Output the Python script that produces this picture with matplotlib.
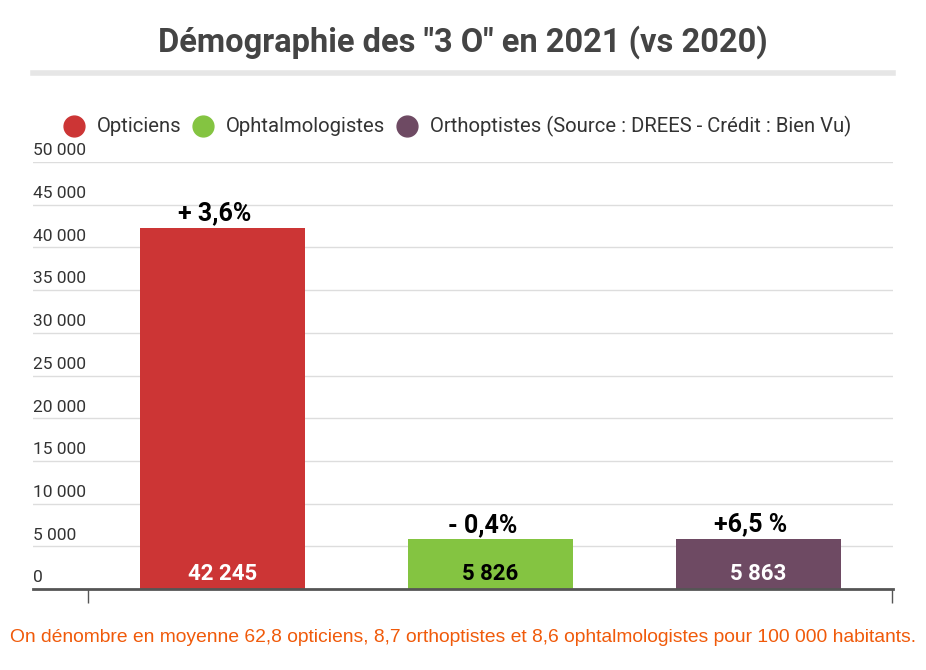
import matplotlib.pyplot as plt
import numpy as np

categories = ['Opticiens', 'Ophtalmologistes', 'Orthoptistes (Source : DREES - Crédit : Bien Vu)']
values = [42245, 5826, 5863]
value_labels = ['42 245', '5 826', '5 863']
changes = ['+ 3,6%', '- 0,4%', '+6,5 %']
colors = ['#cc3535', '#84c441', '#6e4a63']
label_colors = ['white', 'black', 'white']
yticks = np.arange(0, 50001, 5000)

plt.rcParams['font.family'] = ['Roboto', 'DejaVu Sans']

fig = plt.figure(figsize=(9.26, 6.70), dpi=100)
W, H = 926, 670
ax = fig.add_axes([33 / W, 1 - 589 / H, (893 - 33) / W, (589 - 162) / H])

x = np.arange(len(values))
ax.bar(x, values, width=0.616, color=colors, zorder=3)
ax.set_xlim(-0.707, 2.502)
ax.set_ylim(0, 50000)

for yv in yticks[1:]:
    ax.axhline(yv, color='#dddddd', lw=1, zorder=1)
    ax.text(0, yv + 1300, f'{yv:,}'.replace(',', ' '), transform=ax.get_yaxis_transform(),
            ha='left', va='center', fontsize=12.5, color='#333333')
ax.text(0, 1300, '0', transform=ax.get_yaxis_transform(), ha='left', va='center',
        fontsize=12.5, color='#333333')

for s in ['top', 'right', 'left']:
    ax.spines[s].set_visible(False)
ax.spines['bottom'].set_color('#555555')
ax.spines['bottom'].set_linewidth(2)
ax.spines['bottom'].set_zorder(4)
ax.set_yticks([])
ax.set_xticks([-0.5, 2.5])
ax.set_xticklabels([])
ax.tick_params(axis='x', length=10, width=1, color='#555555')

for i, v in enumerate(values):
    ax.text(i, 1800, value_labels[i], ha='center', va='center', fontsize=16,
            fontweight='bold', color=label_colors[i], zorder=5)
    ax.text(i - 0.03, v + 1700, changes[i], ha='center', va='center', fontsize=18,
            fontweight='bold', color='black', zorder=5)

fig.text(463 / W, 1 - 42 / H, 'Démographie des "3 O" en 2021 (vs 2020)', ha='center',
         va='center', fontsize=23.5, fontweight='bold', color='#444444')
fig.add_artist(plt.Line2D([33 / W, 893 / W], [1 - 73 / H, 1 - 73 / H], color='#e6e6e6', lw=4))

# legend
lx = [74, 203, 407]
for i, c in enumerate(categories):
    fig.add_artist(plt.Line2D([lx[i] / W], [1 - 126 / H], marker='o', ms=15,
                              color=colors[i], lw=0))
    fig.text((lx[i] + 23) / W, 1 - 126 / H, c, ha='left', va='center', fontsize=14.6,
             color='#333333')

fig.text(463 / W, 1 - 637 / H,
         'On dénombre en moyenne 62,8 opticiens, 8,7 orthoptistes et 8,6 ophtalmologistes pour 100 000 habitants.',
         ha='center', va='center', fontsize=13.9, color='#f05a0a', family='Liberation Sans')

fig.savefig('out.png', dpi=100)
